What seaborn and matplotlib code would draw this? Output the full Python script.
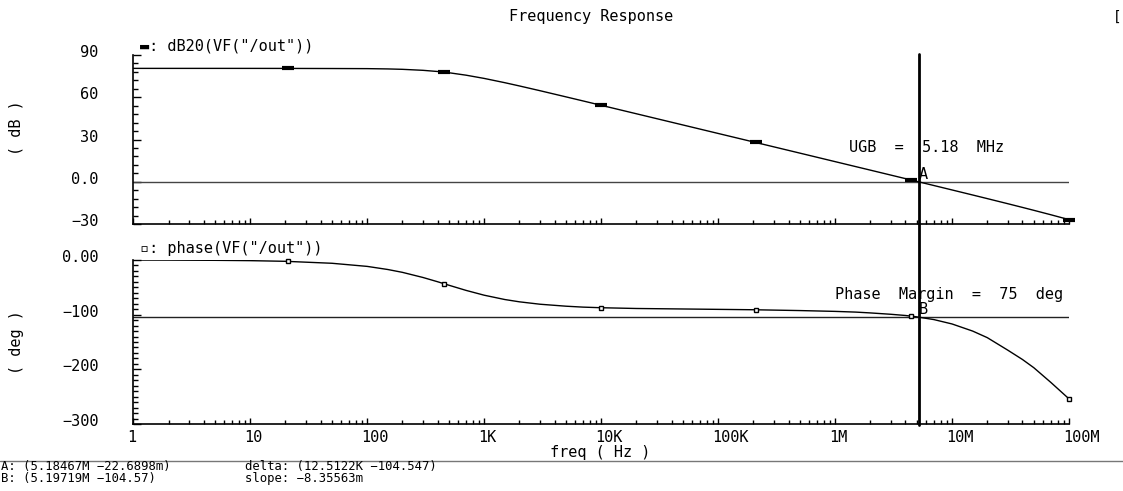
import matplotlib
matplotlib.use("Agg")
import matplotlib.pyplot as plt
import matplotlib.ticker as mticker
import matplotlib.transforms as mtransforms
import pandas as pd
import seaborn as sns

# ---------------- data ----------------
freq_hz = [1, 2, 5, 10, 20, 50, 100, 150, 200, 300, 400, 500, 700, 1e3, 1.5e3, 2e3,
           3e3, 5e3, 7e3, 1e4, 2e4, 5e4, 1e5, 2e5, 5e5, 1e6, 1.5e6, 2e6, 3e6, 4e6,
           5e6, 7e6, 1e7, 1.5e7, 2e7, 3e7, 4e7, 5e7, 7e7, 1e8]
gain_db = [80.5, 80.5, 80.5, 80.49, 80.47, 80.4, 80.32, 80.11, 79.83, 79.12, 78.28,
           77.40, 75.67, 73.37, 70.34, 68.03, 64.65, 60.28, 57.38, 54.29, 48.28,
           40.32, 34.30, 28.29, 20.33, 14.29, 10.76, 8.26, 4.72, 2.21, 0.26, -2.68,
           -5.82, -9.40, -11.96, -15.60, -18.22, -20.28, -23.44, -26.90]
phase_deg = [-0.1, -0.2, -0.6, -1.2, -2.4, -6.0, -11.7, -17.4, -22.6, -32.0, -39.8,
             -46.2, -55.6, -64.4, -72.3, -76.5, -80.9, -84.5, -86.2, -87.3, -88.7,
             -89.6, -90.3, -91.0, -92.5, -94.0, -95.3, -96.8, -99.3, -101.5, -104.0,
             -109.0, -117.0, -130.0, -142.0, -165.0, -182.0, -197.0, -224.0, -254.0]

marker_freq = [21, 452, 1.0e4, 2.09e5, 4.5e6, 1.0e8]
marker_gain = [80.47, 77.83, 54.29, 27.9, 1.2, -26.9]
marker_phase = [-2.5, -43.5, -87.3, -91.0, -103.0, -254.0]

cursor_a = (5.18467e6, -22.6898e-3)
cursor_b = (5.19719e6, -104.57)

db_ticks = [-30, 0, 30, 60, 90]
db_labels = ["\u221230", "0.0", "30", "60", "90"]
ph_ticks = [-300, -200, -100, 0]
ph_labels = ["\u2212300", "\u2212200", "\u2212100", "0.00"]
x_ticks = [1, 10, 100, 1e3, 1e4, 1e5, 1e6, 1e7, 1e8]
x_labels = ["1", "10", "100", "1K", "10K", "100K", "1M", "10M", "100M"]

curve = pd.DataFrame({"freq": freq_hz, "gain": gain_db, "phase": phase_deg})
marks = pd.DataFrame({"freq": marker_freq, "gain": marker_gain, "phase": marker_phase})

# ---------------- styling ----------------
sns.set_theme(style="ticks")
plt.rcParams["font.family"] = ["DejaVu Sans Mono", "DejaVu Sans"]
plt.rcParams["axes.linewidth"] = 1.2
plt.rcParams["text.color"] = "black"

FS = 11
W, H = 1123, 491
fig = plt.figure(figsize=(W / 100, H / 100), dpi=100)
fig.patch.set_facecolor("white")

x_left, x_right = 133.3, 1069.0


def ax_rect(top, bottom):
    return [x_left / W, 1 - bottom / H, (x_right - x_left) / W, (bottom - top) / H]


ax1 = fig.add_axes(ax_rect(55, 224))
ax2 = fig.add_axes(ax_rect(260, 424))
ax2.set_facecolor("none")

sns.lineplot(data=curve, x="freq", y="gain", ax=ax1, color="black", lw=1.0,
             estimator=None, sort=False)
sns.lineplot(data=curve, x="freq", y="phase", ax=ax2, color="black", lw=1.0,
             estimator=None, sort=False)
ax1.plot(marks["freq"], marks["gain"], ls="none", marker="_", ms=8, mew=3,
         color="black", zorder=5, clip_on=False)
ax2.plot(marks["freq"], marks["phase"], ls="none", marker="s", ms=3.5, mew=1,
         mfc="white", mec="black", zorder=5, clip_on=False)

for ax in (ax1, ax2):
    ax.set_xscale("log")
    ax.set_xlim(1, 1e8)
    ax.set_xlabel("")
    ax.set_ylabel("")
    for s in ("top", "right"):
        ax.spines[s].set_visible(False)
    for s in ("left", "bottom"):
        ax.spines[s].set_color("black")
    ax.xaxis.set_major_locator(mticker.FixedLocator(x_ticks))
    ax.xaxis.set_minor_locator(mticker.LogLocator(base=10, subs=range(2, 10), numticks=20))
    ax.tick_params(axis="both", which="both", direction="in", color="black", width=1)
    ax.tick_params(axis="x", which="major", length=4)
    ax.tick_params(axis="x", which="minor", length=3)
    ax.tick_params(axis="y", which="major", length=6, pad=25, labelsize=FS,
                   labelcolor="black")
    ax.tick_params(axis="y", which="minor", length=3.5)

ax1.set_facecolor("white")
ax1.set_ylim(-30, 90)
ax1.set_yticks(db_ticks, db_labels)
ax1.yaxis.set_minor_locator(mticker.MultipleLocator(6))
ax1.tick_params(axis="x", which="both", labelbottom=False)

ax2.set_ylim(-300, 0)
ax2.set_yticks(ph_ticks, ph_labels)
ax2.yaxis.set_minor_locator(mticker.MultipleLocator(10))
ax2.set_xticks(x_ticks, x_labels)
ax2.tick_params(axis="x", which="major", pad=4, labelsize=FS, labelcolor="black")

# shift labels like the original (y labels a bit up, x labels left aligned)
up = mtransforms.ScaledTranslation(0, 4 / 100, fig.dpi_scale_trans)
for ax in (ax1, ax2):
    for lab in ax.get_yticklabels():
        lab.set_transform(lab.get_transform() + up)
left_shift = mtransforms.ScaledTranslation(-6 / 100, 0, fig.dpi_scale_trans)
for lab in ax2.get_xticklabels():
    lab.set_horizontalalignment("left")
    lab.set_transform(lab.get_transform() + left_shift)

# cursor lines
ax1.axhline(cursor_a[1], color="#444444", lw=1.0, zorder=1)
ax2.axhline(cursor_b[1], color="#222222", lw=1.0, zorder=1)
ax1.axvline(cursor_a[0], ymin=(224 - 425) / 169, ymax=(224 - 54) / 169,
            color="black", lw=2.0, clip_on=False, zorder=6)

# annotations
ax1.text(cursor_a[0], cursor_a[1], "A", ha="left", va="bottom", fontsize=FS)
ax1.text(0.765, 0.455, "UGB  =  5.18  MHz", transform=ax1.transAxes, fontsize=FS,
         ha="left", va="center")
ax2.text(cursor_b[0], cursor_b[1], "B", ha="left", va="bottom", fontsize=FS)
ax2.text(0.750, 0.79, "Phase  Margin  =  75  deg", transform=ax2.transAxes,
         fontsize=FS, ha="left", va="center")

# trace titles
fig.text(140 / W, 1 - 46 / H, "\u25ac: dB20(VF(\"/out\"))", fontsize=FS,
         ha="left", va="center")
fig.text(140 / W, 1 - 249 / H, "\u25ab: phase(VF(\"/out\"))", fontsize=FS,
         ha="left", va="center")

# titles / axis labels
fig.text(591 / W, 1 - 17 / H, "Frequency Response", fontsize=FS, ha="center",
         va="center")
fig.text(1113 / W, 1 - 17 / H, "[", fontsize=10, ha="left", va="center")
fig.text(16 / W, 1 - 128 / H, "( dB )", fontsize=FS, rotation=90, ha="center",
         va="center")
fig.text(16 / W, 1 - 342 / H, "( deg )", fontsize=FS, rotation=90, ha="center",
         va="center")
fig.text(600 / W, 1 - 453 / H, "freq ( Hz )", fontsize=FS, ha="center",
         va="center")

# footer
fig.add_artist(plt.Line2D([0, 1], [1 - 461 / H, 1 - 461 / H], color="#777777",
                          lw=1.0, transform=fig.transFigure))
fig.text(1 / W, 1 - 472.5 / H,
         "A: (5.18467M \u221222.6898m)\nB: (5.19719M \u2212104.57)",
         fontsize=8.8, ha="left", va="center", linespacing=0.95)
fig.text(245 / W, 1 - 472.5 / H,
         "delta: (12.5122K \u2212104.547)\nslope: \u22128.35563m",
         fontsize=8.8, ha="left", va="center", linespacing=0.95)

fig.savefig("out.png", dpi=100, facecolor="white")
